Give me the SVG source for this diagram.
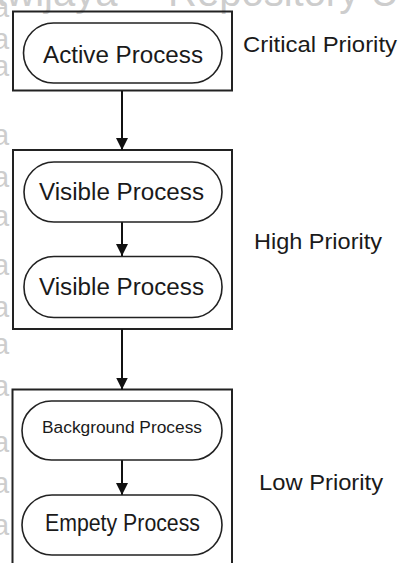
<svg xmlns="http://www.w3.org/2000/svg" width="400" height="563" viewBox="0 0 400 563">
  <style>
    .wm { font-family: "Liberation Sans", Arial, sans-serif; fill: #cdcdcd; }
    .box { fill: none; stroke: #222; stroke-width: 2; }
    .pill { fill: #fff; stroke: #222; stroke-width: 1.6; }
    .t { font-family: "Liberation Sans", Arial, sans-serif; font-size: 23px; fill: #1a1a1a; text-anchor: start; }
    .small { font-size: 16px; }
    .lbl { font-family: "Liberation Sans", Arial, sans-serif; font-size: 22px; fill: #1a1a1a; }
    .conn { stroke: #111; stroke-width: 2; fill: none; }
  </style>
  <defs>
    <marker id="arr" markerWidth="12" markerHeight="12" viewBox="0 0 12 12" refX="12" refY="6" orient="auto" markerUnits="userSpaceOnUse">
      <path d="M0,0 L12,6 L0,12 z" fill="#111"/>
    </marker>
  </defs>
  <rect width="400" height="563" fill="#fff"/>

  <g id="watermark">
    <text class="wm" x="-16" y="6" font-size="40">awijaya</text>
    <text class="wm" x="168" y="6" font-size="40">Repository Un</text>
    <text class="wm" font-size="29"><tspan x="-7" y="17">a</tspan><tspan x="-7" y="49">a</tspan><tspan x="-7" y="76">a</tspan><tspan x="-7" y="145">a</tspan><tspan x="-7" y="187">a</tspan><tspan x="-7" y="226">a</tspan><tspan x="-7" y="275">a</tspan><tspan x="-7" y="317">a</tspan><tspan x="-7" y="354">a</tspan><tspan x="-7" y="396">a</tspan><tspan x="-7" y="452">a</tspan><tspan x="-7" y="493">a</tspan><tspan x="-7" y="535">a</tspan></text>
  </g>

  <g id="critical-group">
    <rect class="box" x="13" y="11.5" width="219" height="79"/>
    <text class="lbl" x="243" y="52" textLength="154" lengthAdjust="spacingAndGlyphs">Critical Priority</text>
  </g>
  <g id="high-group">
    <rect class="box" x="13" y="150" width="219" height="179"/>
    <text class="lbl" x="254" y="249" textLength="128" lengthAdjust="spacingAndGlyphs">High Priority</text>
  </g>
  <g id="low-group">
    <rect class="box" x="12.5" y="389.5" width="219.5" height="190"/>
    <text class="lbl" x="259" y="490" textLength="124" lengthAdjust="spacingAndGlyphs">Low Priority</text>
  </g>

  <g id="connectors">
    <line class="conn" x1="122" y1="91" x2="122" y2="150" marker-end="url(#arr)"/>
    <line class="conn" x1="122" y1="222" x2="122" y2="256" marker-end="url(#arr)"/>
    <line class="conn" x1="122" y1="329" x2="122" y2="389.5" marker-end="url(#arr)"/>
    <line class="conn" x1="122" y1="460" x2="122" y2="495" marker-end="url(#arr)"/>
  </g>

  <g id="active-process">
    <rect class="pill" x="23.5" y="23" width="198.5" height="60" rx="30"/>
    <text class="t" x="43" y="63" textLength="160" lengthAdjust="spacingAndGlyphs">Active Process</text>
  </g>
  <g id="visible-process-1">
    <rect class="pill" x="24" y="162" width="198" height="60" rx="30"/>
    <text class="t" x="39" y="200" textLength="165" lengthAdjust="spacingAndGlyphs">Visible Process</text>
  </g>
  <g id="visible-process-2">
    <rect class="pill" x="24" y="256.5" width="198" height="61" rx="30"/>
    <text class="t" x="39" y="295" textLength="165" lengthAdjust="spacingAndGlyphs">Visible Process</text>
  </g>
  <g id="background-process">
    <rect class="pill" x="22" y="401" width="200" height="59" rx="29.5"/>
    <text class="t small" x="42" y="433" textLength="160" lengthAdjust="spacingAndGlyphs">Background  Process</text>
  </g>
  <g id="empty-process">
    <rect class="pill" x="22" y="495" width="200" height="60" rx="30"/>
    <text class="t" x="45" y="531" textLength="155" lengthAdjust="spacingAndGlyphs">Empety Process</text>
  </g>
</svg>
